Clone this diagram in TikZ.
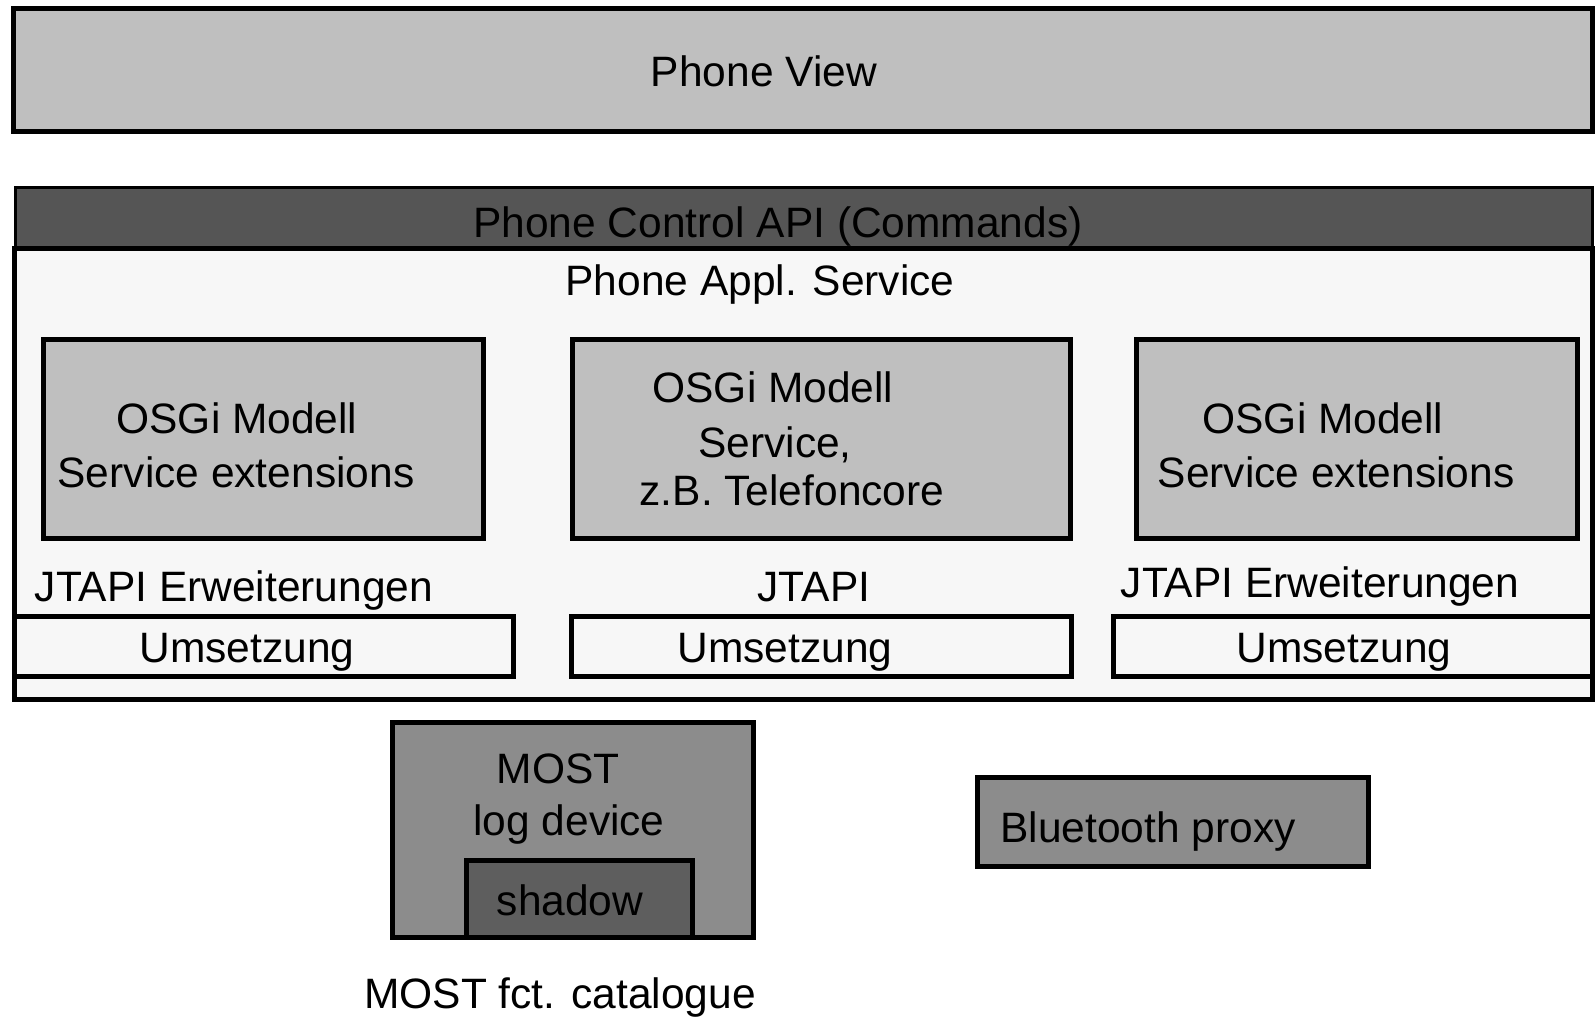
\documentclass[tikz,border=0pt]{standalone}
\usepackage{fontspec}
\setmainfont{Liberation Sans}
\usetikzlibrary{fit}
\definecolor{viewgray}{gray}{0.75}
\definecolor{apigray}{gray}{0.333}
\definecolor{servicegray}{gray}{0.97}
\definecolor{mostgray}{gray}{0.55}
\definecolor{shadowgray}{gray}{0.37}
\tikzset{
	x=0.5pt, y=-0.5pt, % one unit is one pixel of the sketch, y runs downwards
	every node/.style={font=\fontsize{21.25}{25}\selectfont},
	layer/.style={draw, line width=2.5pt, inner sep=0pt}, % thick framed box
	apibar/.style={draw, line width=1.5pt, inner sep=0pt, fill=apigray}, % thin dark bar
	txt/.style={anchor=base, inner sep=0pt}, % label placed on its baseline
}
\begin{document}
\begin{tikzpicture}
	\useasboundingbox (0,0) rectangle (1595,1018);

	% layers
	\node[layer, fill=viewgray, fit={(13,8)(1592,131)}] (view) {};
	\node[apibar, fit={(15,187)(1592,248)}] (api) {};
	\node[layer, fill=servicegray, fit={(14,248)(1592,699)}] (service) {};

	% OSGi boxes
	\node[layer, fill=viewgray, fit={(43,339)(483,538)}] (osgil) {};
	\node[layer, fill=viewgray, fit={(572,339)(1070,538)}] (osgim) {};
	\node[layer, fill=viewgray, fit={(1136,339)(1577,538)}] (osgir) {};

	% Umsetzung boxes
	\node[layer, fill=servicegray, fit={(14,616)(513,676)}] (umsl) {};
	\node[layer, fill=servicegray, fit={(571,616)(1071,676)}] (umsm) {};
	\node[layer, fill=servicegray, fit={(1113,616)(1592,676)}] (umsr) {};

	% MOST and Bluetooth
	\node[layer, fill=mostgray, fit={(392,722)(753,937)}] (most) {};
	\node[layer, fill=shadowgray, fit={(466,860)(692,937)}] (shadow) {};
	\node[layer, fill=mostgray, fit={(977,777)(1368,866)}] (bt) {};

	% texts
	\node[txt] (viewtxt) at (764,86) {Phone View};
	\node[txt] (apitxt) at (778,237) {Phone Control API (Commands)};
	\node[txt] (servicetxt) at (760,295) {Phone Appl. Service};

	\node[txt] (osgilA) at (237,433) {OSGi Modell};
	\node[txt] (osgilB) at (236,487) {Service extensions};
	\node[txt] (osgimA) at (773,402) {OSGi Modell};
	\node[txt] (osgimB) at (775,457) {Service,};
	\node[txt] (osgimC) at (792,505) {z.B. Telefoncore};
	\node[txt] (osgirA) at (1323,433) {OSGi Modell};
	\node[txt] (osgirB) at (1336,487) {Service extensions};

	\node[txt] (jtapil) at (234,601) {JTAPI Erweiterungen};
	\node[txt] (jtapim) at (814,601) {JTAPI};
	\node[txt] (jtapir) at (1320,597) {JTAPI Erweiterungen};

	\node[txt] (umsltxt) at (247,662) {Umsetzung};
	\node[txt] (umsmtxt) at (785,662) {Umsetzung};
	\node[txt] (umsrtxt) at (1344,662) {Umsetzung};

	\node[txt] (mostA) at (558,783) {MOST};
	\node[txt] (mostB) at (569,835) {log device};
	\node[txt] (shadowtxt) at (570,915) {shadow};
	\node[txt] (catalogue) at (560,1008) {MOST fct. catalogue};
	\node[txt, anchor=base west] (bttxt) at (1000,842) {Bluetooth proxy};
\end{tikzpicture}
\end{document}
